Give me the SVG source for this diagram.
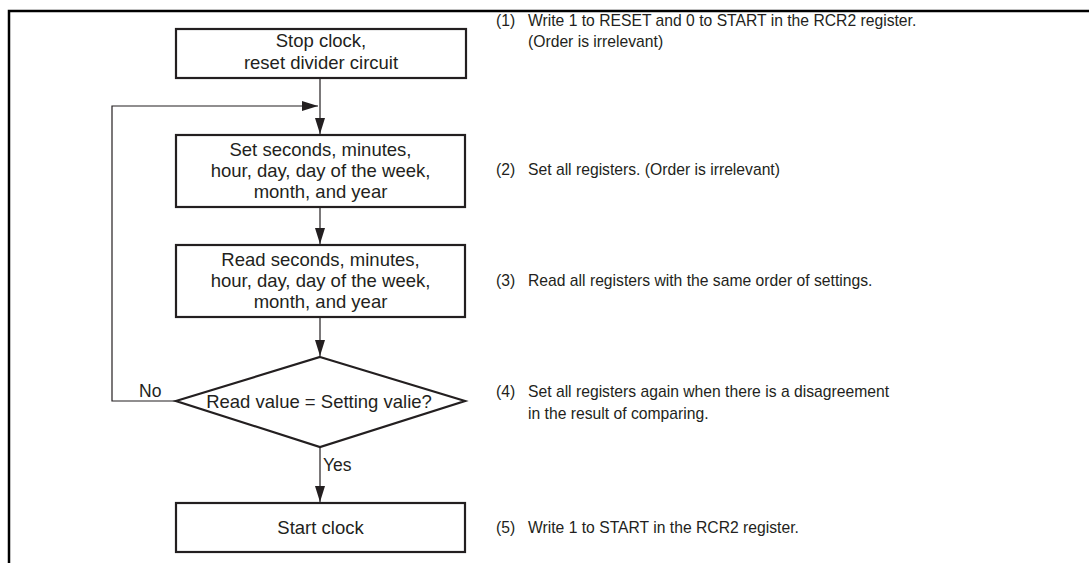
<svg xmlns="http://www.w3.org/2000/svg" width="1089" height="563" viewBox="0 0 1089 563">
<style>
.box{fill:#fff;stroke:#231f20;stroke-width:2.2}
.ln{fill:none;stroke:#231f20;stroke-width:1.2}
.frame{fill:none;stroke:#000;stroke-width:2.5}
.t{font-family:"Liberation Sans",Arial,sans-serif;font-size:18.5px;fill:#231f20;text-anchor:middle}
.n{font-family:"Liberation Sans",Arial,sans-serif;font-size:15.7px;fill:#231f20}
.lb{font-family:"Liberation Sans",Arial,sans-serif;font-size:17.5px;fill:#231f20}
</style>
<defs>
<marker id="ah" viewBox="0 0 16 10" refX="16" refY="5" markerWidth="16" markerHeight="10" markerUnits="userSpaceOnUse" orient="auto">
<path d="M0,0 L16,5 L0,10 Z" fill="#231f20"/>
</marker>
</defs>
<rect width="1089" height="563" fill="#fff"/>
<path class="frame" d="M9,563 V11 H1089"/>
<g id="connectors">
<path class="ln" d="M320,78 V134" marker-end="url(#ah)"/>
<path class="ln" d="M176,401 H112 V106 H318" marker-end="url(#ah)"/>
<path class="ln" d="M320,207 V244" marker-end="url(#ah)"/>
<path class="ln" d="M320,317 V356" marker-end="url(#ah)"/>
<path class="ln" d="M320,447 V502" marker-end="url(#ah)"/>
<text class="lb" x="139" y="397">No</text>
<text class="lb" x="323" y="471">Yes</text>
</g>
<g id="n1">
<rect class="box" x="176" y="29" width="290" height="49"/>
<text class="t" x="321" y="47">Stop clock,</text>
<text class="t" x="321" y="69">reset divider circuit</text>
</g>
<g id="n2">
<rect class="box" x="176" y="135" width="289" height="72"/>
<text class="t" x="320.5" y="156">Set seconds, minutes,</text>
<text class="t" x="320.5" y="177">hour, day, day of the week,</text>
<text class="t" x="320.5" y="198">month, and year</text>
</g>
<g id="n3">
<rect class="box" x="176" y="245" width="289" height="72"/>
<text class="t" x="320.5" y="266">Read seconds, minutes,</text>
<text class="t" x="320.5" y="287">hour, day, day of the week,</text>
<text class="t" x="320.5" y="308">month, and year</text>
</g>
<g id="n4">
<path class="box" d="M320,357 L465,401 L320,447 L176,401 Z"/>
<text class="t" x="319" y="408">Read value = Setting valie?</text>
</g>
<g id="n5">
<rect class="box" x="176" y="503" width="289" height="49"/>
<text class="t" x="320.5" y="534">Start clock</text>
</g>
<g id="notes">
<text class="n" x="496" y="26">(1)</text>
<text class="n" x="528" y="26">Write 1 to RESET and 0 to START in the RCR2 register.</text>
<text class="n" x="528" y="47">(Order is irrelevant)</text>
<text class="n" x="496" y="175">(2)</text>
<text class="n" x="528" y="175">Set all registers. (Order is irrelevant)</text>
<text class="n" x="496" y="286">(3)</text>
<text class="n" x="528" y="286">Read all registers with the same order of settings.</text>
<text class="n" x="496" y="397">(4)</text>
<text class="n" x="528" y="397">Set all registers again when there is a disagreement</text>
<text class="n" x="528" y="419">in the result of comparing.</text>
<text class="n" x="496" y="533">(5)</text>
<text class="n" x="528" y="533">Write 1 to START in the RCR2 register.</text>
</g>
</svg>
